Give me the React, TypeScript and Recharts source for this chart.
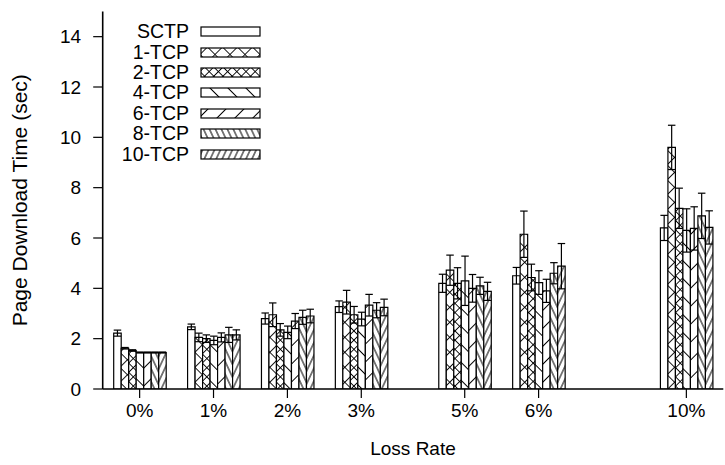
import React from "react";
import { BarChart, Bar, XAxis, YAxis, ErrorBar, Legend } from "recharts";

const FONT = "'Liberation Sans', Arial, Helvetica, sans-serif";

const lossRates = ["0%", "1%", "2%", "3%", "5%", "6%", "10%"];
// slot of each loss rate along the x axis (wider gaps before 5% and 10%)
const lossSlots = [0, 1, 2, 3, 4.4, 5.4, 7.4];
const timeTicks = [0, 2, 4, 6, 8, 10, 12, 14];

// mean page download time (sec) and half-width of the error bar
const sctpTime = [2.22, 2.47, 2.8, 3.27, 4.2, 4.5, 6.4];
const sctpErr = [0.12, 0.11, 0.22, 0.23, 0.36, 0.33, 0.5];
const tcp1Time = [1.62, 2.05, 2.95, 3.45, 4.72, 6.15, 9.6];
const tcp1Err = [0.03, 0.17, 0.47, 0.47, 0.6, 0.92, 0.88];
const tcp2Time = [1.53, 2.0, 2.35, 2.95, 4.2, 4.43, 7.18];
const tcp2Err = [0.03, 0.15, 0.25, 0.33, 0.62, 0.53, 0.8];
const tcp4Time = [1.45, 1.93, 2.25, 2.78, 4.3, 4.23, 6.3];
const tcp4Err = [0.02, 0.17, 0.25, 0.27, 0.98, 0.47, 0.86];
const tcp6Time = [1.45, 2.05, 2.7, 3.33, 4.0, 3.9, 6.38];
const tcp6Err = [0.02, 0.18, 0.3, 0.43, 0.55, 0.46, 0.86];
const tcp8Time = [1.45, 2.15, 2.85, 3.13, 4.1, 4.6, 6.88];
const tcp8Err = [0.02, 0.3, 0.28, 0.3, 0.34, 0.42, 0.9];
const tcp10Time = [1.45, 2.15, 2.9, 3.24, 3.88, 4.88, 6.42];
const tcp10Err = [0.02, 0.2, 0.27, 0.33, 0.36, 0.9, 0.66];

const series = [
  { name: "SCTP", times: sctpTime, errors: sctpErr, fill: "#fff" },
  { name: "1-TCP", times: tcp1Time, errors: tcp1Err, fill: "url(#crossWide)" },
  { name: "2-TCP", times: tcp2Time, errors: tcp2Err, fill: "url(#crossTight)" },
  { name: "4-TCP", times: tcp4Time, errors: tcp4Err, fill: "url(#diagDown)" },
  { name: "6-TCP", times: tcp6Time, errors: tcp6Err, fill: "url(#diagUp)" },
  { name: "8-TCP", times: tcp8Time, errors: tcp8Err, fill: "url(#steepDown)" },
  { name: "10-TCP", times: tcp10Time, errors: tcp10Err, fill: "url(#steepUp)" },
];

const data = lossSlots.map((slot, i) => {
  const row: Record<string, number | string> = { slot, rate: lossRates[i] };
  series.forEach((s, k) => {
    row[`t${k}`] = s.times[i];
    row[`e${k}`] = s.errors[i];
  });
  return row;
});

const rateLabel = (v: number) => lossRates[lossSlots.indexOf(v)] ?? "";

function Hatch({ id, gap, angle }: { id: string; gap: number; angle: number }) {
  return (
    <pattern
      id={id}
      width={gap}
      height={gap}
      patternUnits="userSpaceOnUse"
      patternTransform={`rotate(${angle})`}
    >
      <rect width={gap} height={gap} fill="#fff" />
      <line x1={gap / 2} y1={0} x2={gap / 2} y2={gap} stroke="#000" strokeWidth={1} />
    </pattern>
  );
}

function CrossHatch({ id, gap }: { id: string; gap: number }) {
  return (
    <pattern
      id={id}
      width={gap}
      height={gap}
      patternUnits="userSpaceOnUse"
      patternTransform="rotate(45)"
    >
      <rect width={gap} height={gap} fill="#fff" />
      <path
        d={`M${gap / 2} 0V${gap}M0 ${gap / 2}H${gap}`}
        stroke="#000"
        strokeWidth={0.9}
        fill="none"
      />
    </pattern>
  );
}

const renderLegend = () => (
  <div style={{ display: "flex", flexDirection: "column", fontFamily: FONT }}>
    {series.map((s) => (
      <div key={s.name} style={{ display: "flex", alignItems: "center", height: 20.4 }}>
        <span style={{ width: 189, textAlign: "right", fontSize: 19.5, color: "#000" }}>
          {s.name}
        </span>
        <svg width={62} height={11} style={{ marginLeft: 11, display: "block" }}>
          <rect x={1} y={1} width={59} height={9} fill={s.fill} stroke="#000" strokeWidth={1.2} />
        </svg>
      </div>
    ))}
  </div>
);

export default function App() {
  return (
    <div
      style={{
        position: "absolute",
        left: 0,
        top: 0,
        width: 725,
        height: 465,
        background: "#fff",
        fontFamily: FONT,
      }}
    >
      <BarChart
        width={725}
        height={465}
        data={data}
        margin={{ top: 11.5, right: 1.7, bottom: 0, left: 0 }}
        barGap={0}
        barSize={7.5}
      >
        <defs>
          <CrossHatch id="crossWide" gap={10.6} />
          <CrossHatch id="crossTight" gap={6.5} />
          <Hatch id="diagDown" gap={12.7} angle={-45} />
          <Hatch id="diagUp" gap={12.7} angle={45} />
          <Hatch id="steepDown" gap={5.4} angle={-25} />
          <Hatch id="steepUp" gap={5.4} angle={25} />
        </defs>
        <XAxis
          dataKey="slot"
          type="number"
          domain={[-0.5, 7.9]}
          ticks={lossSlots}
          interval={0}
          allowDataOverflow
          tickFormatter={rateLabel}
          height={76}
          tickSize={9}
          tickMargin={6}
          axisLine={{ stroke: "#000", strokeWidth: 1.6 }}
          tickLine={{ stroke: "#000", strokeWidth: 1.2 }}
          tick={{ fill: "#000", fontSize: 19 }}
          label={{
            value: "Loss Rate",
            position: "insideBottom",
            offset: 10,
            fill: "#000",
            fontSize: 19,
          }}
        />
        <XAxis
          xAxisId="top"
          orientation="top"
          dataKey="slot"
          type="number"
          domain={[-0.5, 7.9]}
          ticks={lossSlots}
          interval={0}
          allowDataOverflow
          height={0}
          tickSize={9}
          tick={false}
          axisLine={{ stroke: "#000", strokeWidth: 1.6 }}
          tickLine={{ stroke: "#000", strokeWidth: 1.2 }}
        />
        <YAxis
          domain={[0, 15]}
          ticks={timeTicks}
          interval={0}
          allowDataOverflow
          width={102.7}
          tickSize={9.5}
          tickMargin={12}
          axisLine={{ stroke: "#000", strokeWidth: 1.6 }}
          tickLine={{ stroke: "#000", strokeWidth: 1.2 }}
          tick={{ fill: "#000", fontSize: 19 }}
          label={{
            value: "Page Download Time (sec)",
            angle: -90,
            position: "insideLeft",
            offset: 20,
            fill: "#000",
            fontSize: 21,
            style: { textAnchor: "middle" },
          }}
        />
        <YAxis
          yAxisId="right"
          orientation="right"
          domain={[0, 15]}
          width={0}
          tick={false}
          tickLine={false}
          axisLine={{ stroke: "#000", strokeWidth: 1.6 }}
        />
        <Legend
          content={renderLegend}
          layout="vertical"
          align="center"
          verticalAlign="middle"
          wrapperStyle={{ left: 0, top: 21.5, width: 270 }}
        />
        {series.map((s, k) => (
          <Bar
            key={s.name}
            dataKey={`t${k}`}
            name={s.name}
            fill={s.fill}
            stroke="#000"
            strokeWidth={1.2}
            isAnimationActive={false}
          >
            <ErrorBar dataKey={`e${k}`} width={3.75} stroke="#000" strokeWidth={1.2} />
          </Bar>
        ))}
      </BarChart>
    </div>
  );
}
